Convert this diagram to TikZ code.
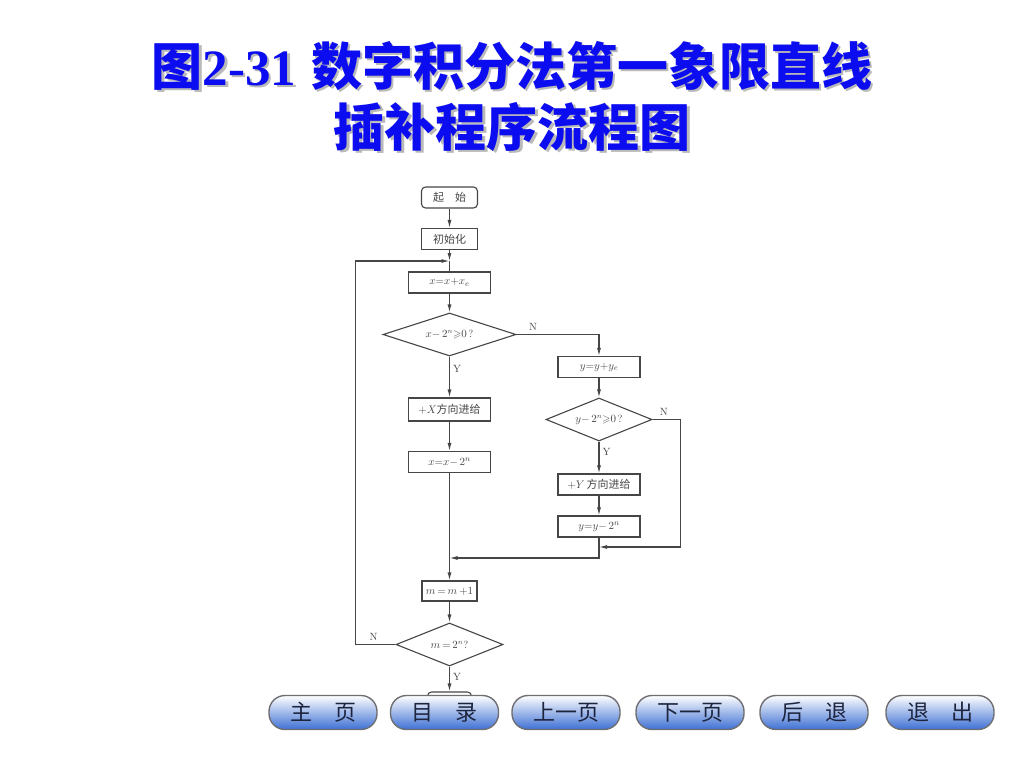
\documentclass[tikz,border=0pt]{standalone}
\usepackage{amsmath,amssymb}
\usepackage{fontspec}
\usetikzlibrary{positioning,shapes.geometric,arrows.meta}
\newfontfamily\cjk{Noto Sans CJK SC}
\newfontfamily\titlenum{Liberation Serif}
\definecolor{titleblue}{RGB}{12,12,240}
\definecolor{flowgray}{RGB}{70,70,70}
\definecolor{btnblue}{RGB}{62,112,212}
\definecolor{btnedge}{RGB}{110,110,115}
\definecolor{btntext}{RGB}{28,36,62}
\newcommand\withshadow[1]{\leavevmode\rlap{\hspace{2.5pt}\raisebox{-2.5pt}{\color{gray!55}#1}}#1}

\tikzset{
  box/.style={draw=flowgray, line width=1.1pt, minimum height=21pt, inner sep=0pt,
    text=flowgray, font=\cjk\fontsize{11}{13}\selectfont},
  term/.style={box, rounded corners=4pt},
  test/.style={draw=flowgray, line width=1.1pt, diamond, aspect=3, inner sep=0pt,
    minimum height=43pt, text=flowgray, font=\fontsize{10.5}{12}\selectfont},
  flow/.style={draw=flowgray, line width=1.1pt},
  yn/.style={font=\fontsize{10.5}{12}\selectfont, text=flowgray, inner sep=3pt},
  navbtn/.style={draw=btnedge, line width=1.4pt, rounded corners=16pt,
    minimum width=108pt, minimum height=34pt, top color=white,
    middle color=btnblue!45, bottom color=btnblue,
    font=\cjk\fontsize{22}{22}\selectfont, text=btntext},
  heading/.style={font=\fontsize{51}{51}\selectfont, inner sep=0pt, text=titleblue},
}

\begin{document}
\begin{tikzpicture}[x=1pt, y=-1pt, >={Latex[length=8pt,width=4pt]}]

\fill[white] (0,0) rectangle (1024,768);

% Title with shadow
\node (titleA) [heading] at (512,67)
    {\withshadow{{\cjk\bfseries 图}{\titlenum\bfseries 2-31} {\cjk\bfseries 数字积分法第一象限直线}}};
\node (titleB) [heading] at (512,128) {\withshadow{\cjk\bfseries 插补程序流程图}};

% Main column
\node (start) [term, minimum width=56pt] at (449.5,197.5) {起\quad 始};
\node (init) [box, minimum width=56pt] at (449.5,239) {初始化};
\node (xadd) [box, minimum width=82pt] at (449.5,282.5) {$x{=}x{+}x_e$};
\node (xdia) [test, minimum width=133pt] at (449.5,334.5) {$x{-}\,2^n{\geqslant}0$\,?};
\node (xfeed) [box, minimum width=82pt, minimum height=23pt] at (449.5,409.5) {$+X$方向进给};
\node (xsub) [box, minimum width=82pt] at (449.5,462) {$x{=}x{-}\,2^n$};
\node (mincbox) [box, minimum width=55pt, minimum height=20pt] at (449.5,591) {$m\,{=}\,m\,{+}1$};
\node (mdia) [test, minimum width=107pt] at (449.5,644.5) {$m\,{=}\,2^n$?};
\node (stop) [term, minimum width=44pt, minimum height=22pt] at (449.5,703) {};

% Right column
\node (yadd) [box, minimum width=82pt] at (599,367) {$y{=}y{+}y_e$};
\node (ydia) [test, minimum width=106pt] at (599,419.5) {$y{-}\,2^n{\geqslant}0$\,?};
\node (yfeed) [box, minimum width=82pt] at (599,484.5) {$+Y$\,方向进给};
\node (ysub) [box, minimum width=82pt] at (599,526.5) {$y{=}y{-}\,2^n$};

\coordinate (loopin) at (449.5,261);
\coordinate (yjoin) at (599,547);
\coordinate (xjoin) at (449.5,558);

% Connectors
\draw[flow,->] (start) -- (init);
\draw[flow,->] (init) -- (loopin);
\draw[flow] (loopin) -- (xadd);
\draw[flow,->] (xadd) -- (xdia);
\draw[flow,->] (xdia.east) -| node[yn, pos=0.1, above] {N} (yadd.north);
\draw[flow,->] (xdia.south) -- node[yn, pos=0.3, right] {Y} (xfeed);
\draw[flow,->] (xfeed) -- (xsub);
\draw[flow,->] (xsub) -- (mincbox);
\draw[flow,->] (yadd) -- (ydia);
\draw[flow,->] (ydia.south) -- node[yn, pos=0.33, right] {Y} (yfeed);
\draw[flow,->] (yfeed) -- (ysub);
\draw[flow,->] (ydia.east) -- node[yn, pos=0.4, above] {N} ++(28,0) |- (yjoin);
\draw[flow,->] (ysub) |- (xjoin);
\draw[flow,->] (mincbox) -- (mdia);
\draw[flow,->] (mdia.west) -- node[yn, pos=0.55, above] {N} ++(-40,0) |- (loopin);
\draw[flow,->] (mdia.south) -- node[yn, pos=0.42, right] {Y} (stop.north);

% Navigation buttons
\node (home) [navbtn] at (323,712.5) {主\quad 页};
\node (contents) [navbtn] at (444.5,712.5) {目\quad 录};
\node (prev) [navbtn] at (566,712.5) {上一页};
\node (next) [navbtn] at (690,712.5) {下一页};
\node (back) [navbtn] at (814,712.5) {后\quad 退};
\node (quit) [navbtn] at (940,712.5) {退\quad 出};

\end{tikzpicture}
\end{document}
